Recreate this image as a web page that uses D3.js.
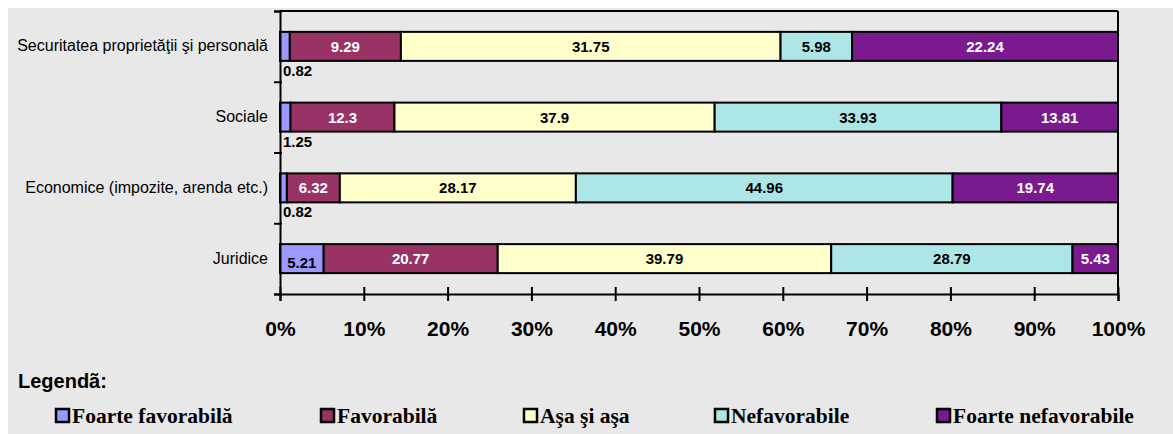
<!DOCTYPE html>
<html>
<head>
<meta charset="utf-8">
<script src="https://cdn.jsdelivr.net/npm/d3@7"></script>
<style>
  body { margin: 0; background: #fff; }
</style>
</head>
<body>
<div id="canvas"></div>
<script>
const canvas = d3.select("#canvas");

// date
const categories = ["Securitatea proprietăţii şi personală", "Sociale", "Economice (impozite, arenda etc.)", "Juridice"];
const series = ["Foarte favorabilă", "Favorabilă", "Aşa şi aşa", "Nefavorabile", "Foarte nefavorabile"];
const foarteFavorabila = [0.82, 1.25, 0.82, 5.21];
const favorabila = [9.29, 12.3, 6.32, 20.77];
const asaSiAsa = [31.75, 37.9, 28.17, 39.79];
const nefavorabile = [5.98, 33.93, 44.96, 28.79];
const foarteNefavorabile = [22.24, 13.81, 19.74, 5.43];
const xTicks = [0, 10, 20, 30, 40, 50, 60, 70, 80, 90, 100];

const colors = ["#9999ff", "#993366", "#ffffcc", "#ade6e6", "#7b198e"];
const labelColors = ["#000", "#fff", "#000", "#000", "#fff"];

const values = [foarteFavorabila, favorabila, asaSiAsa, nefavorabile, foarteNefavorabile];

// 100% stacked: fiecare rand normalizat
const rows = categories.map((c, i) => {
    const row = { cat: c };
    series.forEach((s, j) => row[s] = values[j][i]);
    return row;
});
const stack = d3.stack().keys(series).offset(d3.stackOffsetExpand);
const stacked = stack(rows);

const width = 1173;
const height = 434;
const plot = { left: 280, right: 1118, top: 11, bottom: 294 };

const svg = canvas.append("svg")
    .attr("width", width)
    .attr("height", height);

svg.append("rect")
    .attr("x", 8).attr("y", 8)
    .attr("width", width - 8).attr("height", height - 8)
    .style("fill", "#e8e8e8");

const x = d3.scaleLinear()
    .domain([0, 1])
    .range([plot.left, plot.right]);

const y = d3.scaleBand()
    .domain(categories)
    .range([plot.top, plot.bottom])
    .paddingInner(0.59)
    .paddingOuter(0.295);

// chenar zona grafic
svg.append("line")
    .attr("x1", plot.left).attr("x2", plot.right)
    .attr("y1", plot.top).attr("y2", plot.top)
    .style("stroke", "#000").style("stroke-width", 2);
svg.append("line")
    .attr("x1", plot.right).attr("x2", plot.right)
    .attr("y1", plot.top).attr("y2", plot.bottom)
    .style("stroke", "#000").style("stroke-width", 2);

// bare
const groups = svg.selectAll("g.serie").data(stacked).enter()
    .append("g")
    .attr("class", "serie")
    .style("fill", (d, i) => colors[i]);

groups.selectAll("rect").data(d => d).enter()
    .append("rect")
    .attr("x", d => x(d[0]))
    .attr("y", d => y(d.data.cat))
    .attr("width", d => x(d[1]) - x(d[0]))
    .attr("height", y.bandwidth())
    .style("stroke", "#000")
    .style("stroke-width", 2);

// etichete valori
stacked.forEach((s, i) => {
    s.forEach((d, k) => {
        const v = values[i][k];
        const w = x(d[1]) - x(d[0]);
        const yb = y(d.data.cat);
        const inside = w > 20;
        svg.append("text")
            .attr("x", inside ? (x(d[0]) + x(d[1])) / 2 : plot.left + 3)
            .attr("y", inside ? yb + y.bandwidth() / 2 + 5.5 + (i === 0 ? 4 : 0) : yb + y.bandwidth() + 15)
            .attr("text-anchor", inside ? "middle" : "start")
            .style("font-family", "'Liberation Sans', Arial, sans-serif")
            .style("font-weight", "bold")
            .style("font-size", "15px")
            .style("fill", inside ? labelColors[i] : "#000")
            .text(v);
    });
});

// axa x
const xAxis = svg.append("g")
    .attr("transform", `translate(0, ${plot.bottom})`)
    .call(d3.axisBottom(x).tickValues(xTicks.map(t => t / 100)).tickFormat(d => Math.round(d * 100) + "%").tickSize(7).tickPadding(20));
xAxis.select(".domain").style("stroke-width", 2);
xAxis.selectAll(".tick line").attr("y1", -7).style("stroke-width", 2);
xAxis.selectAll("text")
    .style("font-family", "'Liberation Sans', Arial, sans-serif")
    .style("font-weight", "bold")
    .style("font-size", "21px")
    .style("fill", "#000");

// axa y
const yLin = d3.scaleLinear().domain([0, categories.length]).range([plot.bottom, plot.top]);
const yAxis = svg.append("g")
    .attr("transform", `translate(${plot.left}, 0)`)
    .call(d3.axisLeft(yLin).ticks(categories.length).tickFormat("").tickSizeOuter(0).tickSize(6));
yAxis.select(".domain").style("stroke-width", 2);
yAxis.selectAll(".tick line").attr("x2", -6).attr("x1", 2).style("stroke-width", 2);

svg.selectAll("text.cat").data(categories).enter()
    .append("text")
    .attr("class", "cat")
    .attr("x", 268)
    .attr("y", d => y(d) + y.bandwidth() / 2 + 5)
    .attr("text-anchor", "end")
    .style("font-family", "'Liberation Sans', Arial, sans-serif")
    .style("font-size", "16px")
    .style("fill", "#000")
    .text(d => d);

// legenda
svg.append("text")
    .attr("x", 18).attr("y", 388)
    .style("font-family", "'Liberation Sans', Arial, sans-serif")
    .style("font-weight", "bold")
    .style("font-size", "20px")
    .text("Legendã:");

const legendX = [56, 321, 524, 715, 937];
const leg = svg.selectAll("g.leg").data(series).enter()
    .append("g")
    .attr("class", "leg")
    .attr("transform", (d, i) => `translate(${legendX[i]}, 409)`);
leg.append("rect")
    .attr("width", 13).attr("height", 13)
    .style("fill", (d, i) => colors[i])
    .style("stroke", "#000")
    .style("stroke-width", 2.5);
leg.append("text")
    .attr("x", 16).attr("y", 14)
    .style("font-family", "'Liberation Serif', 'Times New Roman', serif")
    .style("font-weight", "bold")
    .style("font-size", "21.5px")
    .text(d => d);
</script>
</body>
</html>
